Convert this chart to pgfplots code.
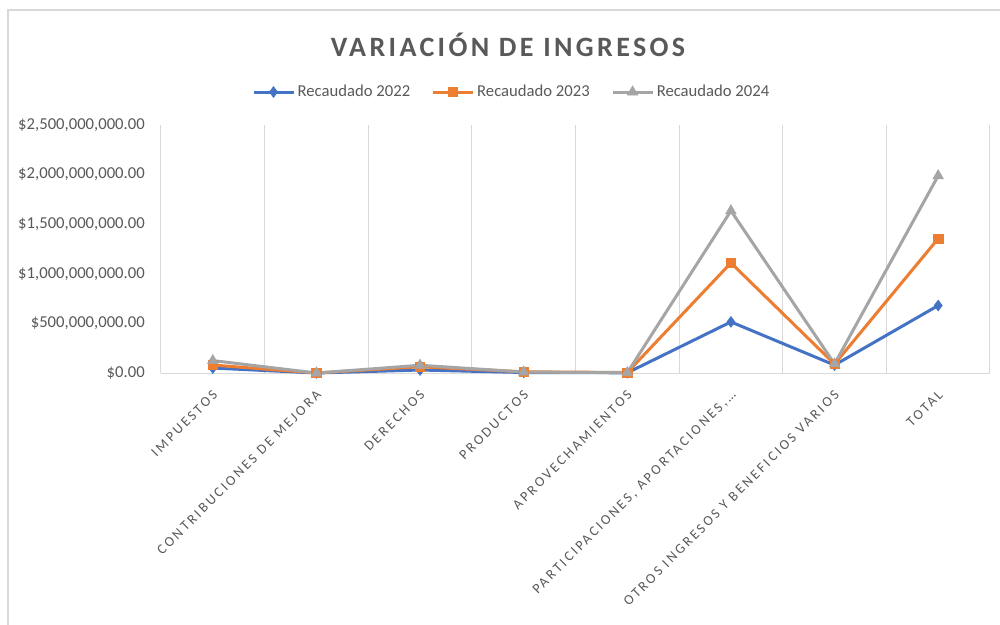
\documentclass[border=0pt]{standalone}
\usepackage{pgfplots}
\pgfplotsset{compat=1.18}
\usepackage{fontspec}
\setmainfont{Carlito}
\newfontfamily\spaced[LetterSpace=18]{Carlito}
\newfontfamily\titlefont[LetterSpace=12]{Carlito}
\definecolor{c22}{HTML}{4472C4}
\definecolor{c23}{HTML}{ED7D31}
\definecolor{c24}{HTML}{A5A5A5}
\definecolor{txt}{HTML}{595959}
\definecolor{gridc}{HTML}{D9D9D9}
\begin{document}
\begin{tikzpicture}[x=1pt,y=1pt]
\useasboundingbox (0,0) rectangle (750,468.75);
\fill[white] (0,0) rectangle (750,468.75);
\draw[gridc, line width=1.2pt] (6,0) -- (6,461.25) -- (750,461.25);
\node[font=\titlefont\bfseries\fontsize{21}{25}\selectfont, text=txt] at (381,435) {VARIACIÓN DE INGRESOS};
\begin{axis}[
  at={(120.75pt,189pt)}, anchor=south west, scale only axis,
  width=621.75pt, height=186pt,
  xmin=-0.5, xmax=7.5, ymin=0, ymax=2500,
  clip=false,
  axis line style={draw=none},
  major tick length=0pt, minor tick length=0pt,
  xtick={0,...,7},
  xticklabels={IMPUESTOS, CONTRIBUCIONES DE MEJORA, DERECHOS, PRODUCTOS, APROVECHAMIENTOS, {PARTICIPACIONES, APORTACIONES,\ldots}, OTROS INGRESOS Y BENEFICIOS VARIOS, TOTAL},
  xticklabel style={font=\spaced\fontsize{10.5}{12}\selectfont, text=txt, rotate=45, anchor=north east, inner sep=0pt, xshift=-9pt, yshift=-8pt},
  minor xtick={-0.5,0.5,...,7.5},
  xminorgrids=true,
  minor x grid style={gridc, line width=0.75pt},
  ytick={0,500,1000,1500,2000,2500},
  yticklabels={{\$0.00},{\$500,000,000.00},{\$1,000,000,000.00},{\$1,500,000,000.00},{\$2,000,000,000.00},{\$2,500,000,000.00}},
  yticklabel style={font=\fontsize{12.5}{14}\selectfont, text=txt, anchor=east, inner sep=0pt, xshift=-12pt},
  legend columns=3,
  legend style={at={(0.4234,1.133)}, anchor=center, draw=none, fill=none,
     font=\fontsize{12.5}{14}\selectfont, text=txt,
     /tikz/every even column/.append style={column sep=14pt}},
  legend image code/.code={\draw[mark repeat=2,mark phase=2,#1] plot coordinates {(0pt,0pt) (15pt,0pt) (30pt,0pt)};},
  every axis plot/.append style={line width=2.25pt},
]
\draw[gridc, line width=0.75pt] (axis cs:-0.5,0) -- (axis cs:7.5,0);
\addplot[c22, mark=diamond*, mark size=4pt, mark options={solid, fill=c22, line width=0.5pt}] coordinates {
 (0,50) (1,0) (2,30) (3,5) (4,2) (5,515) (6,80) (7,680)};
\addlegendentry{Recaudado 2022}
\addplot[c23, mark=square*, mark size=3.5pt, mark options={solid, fill=c23, line width=0.5pt}] coordinates {
 (0,80) (1,0) (2,63) (3,12) (4,5) (5,1110) (6,90) (7,1355)};
\addlegendentry{Recaudado 2023}
\addplot[c24, mark=triangle*, mark size=4.5pt, mark options={solid, fill=c24, line width=0.5pt}] coordinates {
 (0,125) (1,0) (2,78) (3,10) (4,3) (5,1635) (6,92) (7,1988)};
\addlegendentry{Recaudado 2024}
\end{axis}
\end{tikzpicture}
\end{document}
